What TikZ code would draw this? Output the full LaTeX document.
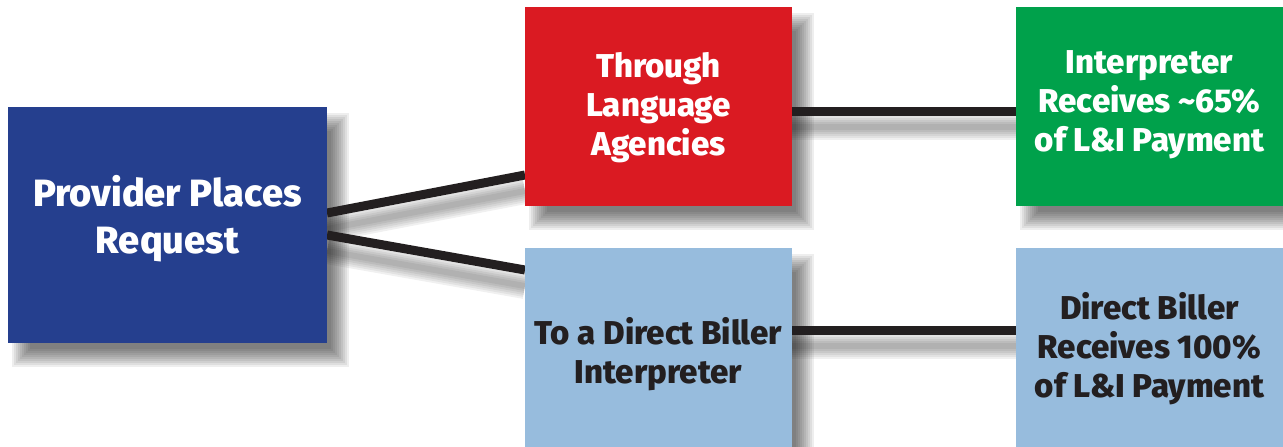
\documentclass[tikz,border=0pt]{standalone}
\usepackage{fontspec}
\setmainfont{Fira Sans}[BoldFont={Fira Sans ExtraBold}]
\usetikzlibrary{calc}
\definecolor{provblue}{HTML}{253F8E}
\definecolor{agred}{HTML}{DA1A22}
\definecolor{intgreen}{HTML}{00A14B}
\definecolor{lightblue}{HTML}{97BCDD}
\definecolor{darktext}{HTML}{231F20}
\pgfdeclarelayer{shadowlayer}
\pgfdeclarelayer{linelayer}
\pgfsetlayers{shadowlayer,linelayer,main}
\tikzset{
  box/.style={rectangle, draw=none, inner sep=0pt, outer sep=0pt},
  bigbox/.style={box, fill=provblue, minimum width=319pt, minimum height=236pt},
  smallbox/.style={box, minimum width=267pt, minimum height=199pt},
  txt/.style={align=center, inner sep=0pt, font=\bfseries\fontsize{33}{39}\selectfont},
  bigtxt/.style={align=center, inner sep=0pt, font=\bfseries\fontsize{38}{47}\selectfont, text=white},
  conn/.style={draw=darktext, line width=9pt},
  connshadow/.style={draw=black, opacity=0.06, transform canvas={yshift=-16pt}}
}
\begin{document}
\begin{tikzpicture}[x=1pt,y=-1pt]
\useasboundingbox (0,0) rectangle (1283,447);
% boxes
\node[bigbox] (prov) at (167.5,225) {};
\node[smallbox, fill=agred] (agency) at (658.5,106.5) {};
\node[smallbox, fill=intgreen] (green) at (1149.5,106.5) {};
\node[smallbox, fill=lightblue] (direct) at (658.5,347.5) {};
\node[smallbox, fill=lightblue] (dbr) at (1149.5,347.5) {};
% texts
\node[bigtxt] (provt) at (167.5,219) {Provider Places\\Request};
\node[txt, text=white] (agencyt) at (658.5,107.3) {Through\\Language\\Agencies};
\node[txt, text=white] (greent) at (1149.5,105) {Interpreter\\Receives \textasciitilde65\%\\of L\&I Payment};
\node[txt, text=darktext] (directt) at (658.5,354) {To a Direct Biller\\Interpreter};
\node[txt, text=darktext] (dbrt) at (1149.5,348.8) {Direct Biller\\Receives 100\%\\of L\&I Payment};
% connector end points
\coordinate (p1) at ([yshift=12pt]prov.east);
\coordinate (p2) at ([yshift=-10pt]prov.east);
\coordinate (a1) at ([yshift=-68.5pt]agency.west);
\coordinate (a2) at ([yshift=-4.5pt]agency.east);
\coordinate (g1) at ([yshift=-4.5pt]green.west);
\coordinate (d1) at ([yshift=77.5pt]direct.west);
\coordinate (d2) at ([yshift=17.5pt]direct.east);
\coordinate (b1) at ([yshift=17.5pt]dbr.west);
% connectors
\begin{pgfonlayer}{linelayer}
\draw[conn] (p1) -- (a1);
\draw[conn] (p2) -- (d1);
\draw[conn] (a2) -- (g1);
\draw[conn] (d2) -- (b1);
\end{pgfonlayer}
% shadows
\begin{pgfonlayer}{shadowlayer}
\foreach \n in {prov,agency,green,direct,dbr}{
  \foreach \r in {-9,-7,...,9}{
    \fill[black, opacity=0.065] ([shift={(13-\r,15-\r)}]\n.north west) rectangle ([shift={(13+\r,15+\r)}]\n.south east);
  }
}
\foreach \w in {26,22,18,14,10,6}{
  \draw[connshadow, line width=\w pt] (p1) -- (a1);
  \draw[connshadow, line width=\w pt] (p2) -- (d1);
  \draw[connshadow, line width=\w pt] (a2) -- (g1);
  \draw[connshadow, line width=\w pt] (d2) -- (b1);
}
\end{pgfonlayer}
\end{tikzpicture}
\end{document}
